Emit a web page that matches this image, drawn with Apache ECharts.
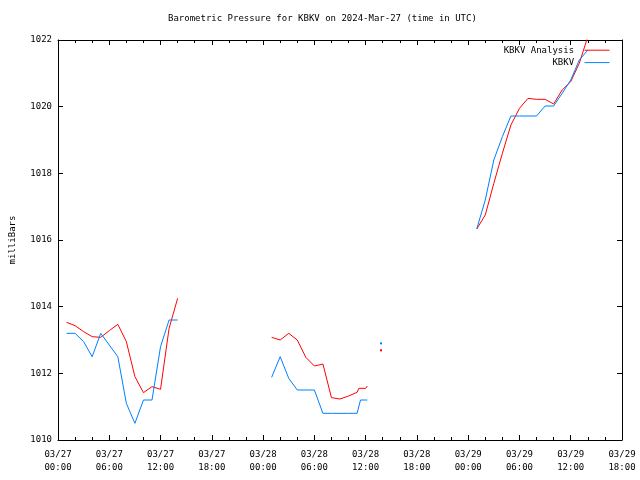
<!DOCTYPE html>
<html><head><meta charset="utf-8">
<script src="https://cdn.jsdelivr.net/npm/echarts@6/dist/echarts.min.js"></script>
<style>html,body{margin:0;padding:0;background:#fff}#c{width:640px;height:480px}</style>
</head><body><div id="c"></div>
<script>
const titleText = 'Barometric Pressure for KBKV on 2024-Mar-27 (time in UTC)';
const yAxisName = 'milliBars';
const seriesNames = ['KBKV Analysis', 'KBKV'];
const startMonth = '03';
const startDay = 27;
// hours since 2024-03-27 00:00 UTC; null = gap
const analysisHours = [1,2,3,4,5,6,7,8,9,10,11,12,13,14, 20,
  25,26,27,28,29,30,31,32,33,34,35,35.2,36,36.2, 37,
  37.8, 44,
  49,50,51,52,53,54,55,56,57,58,59,60,61,62];
const analysisValues = [1013.53,1013.43,1013.25,1013.1,1013.08,1013.28,1013.47,1012.95,1011.9,1011.42,1011.6,1011.52,1013.35,1014.25, null,
  1013.08,1013.0,1013.2,1013.0,1012.48,1012.22,1012.28,1011.27,1011.23,1011.32,1011.43,1011.55,1011.55,1011.62, null,
  1012.69, null,
  1016.33,1016.75,1017.7,1018.6,1019.45,1019.95,1020.25,1020.22,1020.22,1020.08,1020.5,1020.75,1021.3,1022.1];
const obsHours = [1,2,3,4,5,6,7,8,9,10,11,12,13,14, 20,
  25,26,27,28,29,30,31,32,33,34,35,35.4,36,36.2, 37,
  37.8, 44,
  49,50,51,52,53,54,55,56,57,58,59,60,61,62];
const obsValues = [1013.2,1013.2,1012.95,1012.5,1013.2,1012.85,1012.5,1011.1,1010.5,1011.2,1011.2,1012.8,1013.6,1013.6, null,
  1011.88,1012.5,1011.85,1011.5,1011.5,1011.5,1010.8,1010.8,1010.8,1010.8,1010.8,1011.2,1011.2,1011.2, null,
  1012.9, null,
  1016.33,1017.2,1018.4,1019.1,1019.72,1019.72,1019.72,1019.72,1020.02,1020.02,1020.4,1020.8,1021.4,1021.7];
const xMin = 0, xMax = 66, xStep = 6;
const yMin = 1010, yMax = 1022, yStep = 2;

const FONT = 'DejaVu Sans Mono';
function toData(hours, values) {
  return hours.map((h, i) => {
    const v = values[i];
    if (v == null) return [h, '-'];
    const prevNull = i === 0 || values[i - 1] == null;
    const nextNull = i === values.length - 1 || values[i + 1] == null;
    if (prevNull && nextNull) return { value: [h, v], symbol: 'rect', symbolSize: 2 };
    return [h, v];
  });
}
function pad(n) { return (n < 10 ? '0' : '') + n; }
function fmtX(v) {
  const day = startDay + Math.floor(v / 24);
  const hr = v % 24;
  return startMonth + '/' + day + '\n' + pad(hr) + ':00';
}
const chart = echarts.init(document.getElementById('c'), null, { renderer: 'canvas' });
chart.setOption({
  animation: false,
  backgroundColor: '#fff',
  title: { text: titleText, left: 168, top: 14, padding: 0,
    textStyle: { fontFamily: FONT, fontSize: 9, fontWeight: 'normal', color: '#000' } },
  legend: { orient: 'vertical', right: 30, top: 45, align: 'right', itemWidth: 25, itemHeight: 13, itemGap: 2,
    padding: 0, data: seriesNames, formatter: n => n + ' ',
    itemStyle: { opacity: 0 }, lineStyle: { width: 1 },
    textStyle: { fontFamily: FONT, fontSize: 9, color: '#000' } },
  grid: { left: 58, right: 18, top: 40, bottom: 40, containLabel: false, outerBoundsMode: 'none' },
  xAxis: [{
    type: 'value', position: 'bottom', min: xMin, max: xMax, interval: xStep,
    axisLine: { show: true, onZero: false, lineStyle: { color: '#000', width: 1 } },
    axisTick: { show: true, inside: true, length: 5, lineStyle: { color: '#000' } },
    minorTick: { show: true, splitNumber: 3, length: 3, lineStyle: { color: '#000' } },
    splitLine: { show: false },
    axisLabel: { show: true, formatter: fmtX, margin: 8, lineHeight: 13, showMinLabel: true, showMaxLabel: true,
      fontFamily: FONT, fontSize: 9, color: '#000', hideOverlap: false }
  }, {
    type: 'value', position: 'top', min: xMin, max: xMax, interval: xStep,
    axisLine: { show: true, onZero: false, lineStyle: { color: '#000', width: 1 } },
    axisTick: { show: true, inside: true, length: 5, lineStyle: { color: '#000' } },
    minorTick: { show: true, splitNumber: 3, length: 3, lineStyle: { color: '#000' } },
    splitLine: { show: false }, axisLabel: { show: false }
  }],
  yAxis: [{
    type: 'value', position: 'left', min: yMin, max: yMax, interval: yStep,
    name: yAxisName, nameLocation: 'middle', nameGap: 41, nameRotate: 90,
    nameTextStyle: { fontFamily: FONT, fontSize: 9, color: '#000' },
    axisLine: { show: true, onZero: false, lineStyle: { color: '#000', width: 1 } },
    axisTick: { show: true, inside: true, length: 5, lineStyle: { color: '#000' } },
    splitLine: { show: false },
    axisLabel: { show: true, margin: 6, formatter: v => String(v), fontFamily: FONT, fontSize: 9, color: '#000', showMinLabel: true, showMaxLabel: true }
  }, {
    type: 'value', position: 'right', min: yMin, max: yMax, interval: yStep,
    axisLine: { show: true, onZero: false, lineStyle: { color: '#000', width: 1 } },
    axisTick: { show: true, inside: true, length: 5, lineStyle: { color: '#000' } },
    splitLine: { show: false }, axisLabel: { show: false }
  }],
  series: [{
    name: seriesNames[0], type: 'line', xAxisIndex: 0, yAxisIndex: 0,
    data: toData(analysisHours, analysisValues), connectNulls: false,
    symbol: 'none', showSymbol: true, clip: true,
    lineStyle: { color: '#ff0000', width: 1 }, itemStyle: { color: '#ff0000' }, color: '#ff0000'
  }, {
    name: seriesNames[1], type: 'line', xAxisIndex: 0, yAxisIndex: 0,
    data: toData(obsHours, obsValues), connectNulls: false,
    symbol: 'none', showSymbol: true, clip: true,
    lineStyle: { color: '#0080ff', width: 1 }, itemStyle: { color: '#0080ff' }, color: '#0080ff'
  }]
});
</script></body></html>
